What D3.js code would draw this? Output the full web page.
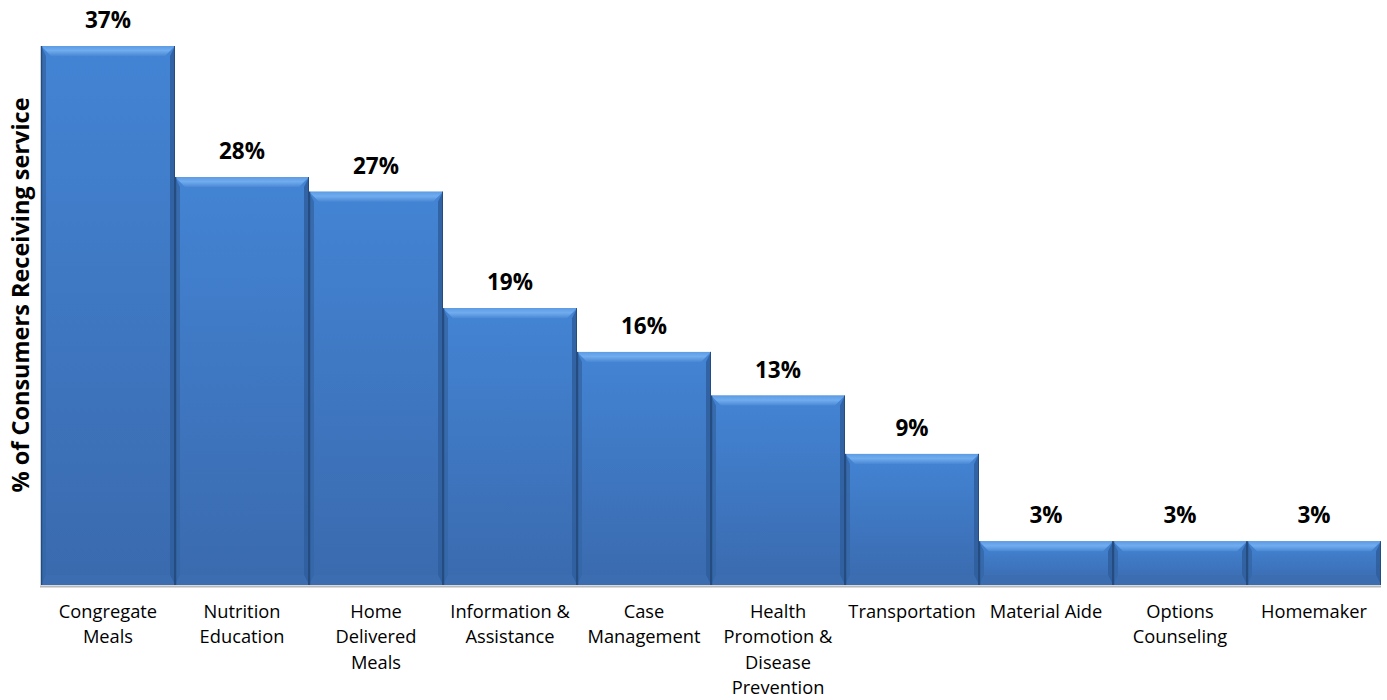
<!DOCTYPE html>
<html>
<head>
<meta charset="utf-8">
<script src="https://cdn.jsdelivr.net/npm/d3@7"></script>
<style>
  html, body { margin: 0; padding: 0; background: #fff; }
  svg text { font-family: "Open Sans", Lato, sans-serif; fill: #000; }
</style>
</head>
<body>
<svg id="chart" width="1387" height="700"></svg>
<script>
// Share of consumers receiving each service
const categories = [
  ["Congregate", "Meals"],
  ["Nutrition", "Education"],
  ["Home", "Delivered", "Meals"],
  ["Information &", "Assistance"],
  ["Case", "Management"],
  ["Health", "Promotion &", "Disease", "Prevention"],
  ["Transportation"],
  ["Material Aide"],
  ["Options", "Counseling"],
  ["Homemaker"]
];
const values = [37, 28, 27, 19, 16, 13, 9, 3, 3, 3];
const yTitle = "% of Consumers Receiving service";

const svg = d3.select("#chart");
const margin = { left: 41, right: 6, top: 46, bottom: 115 };
const W = 1387, H = 700;
const baseY = H - margin.bottom;

const x = d3.scaleBand()
  .domain(d3.range(values.length))
  .range([margin.left, W - margin.right])
  .padding(0);
const y = d3.scaleLinear()
  .domain([0, d3.max(values)])
  .range([baseY, margin.top]);

const defs = svg.append("defs");
const face = defs.append("linearGradient").attr("id", "face")
  .attr("x1", 0).attr("y1", 0).attr("x2", 0).attr("y2", 1);
face.append("stop").attr("offset", "0%").attr("stop-color", "#4384d4");
face.append("stop").attr("offset", "100%").attr("stop-color", "#3a6aae");
const topG = defs.append("linearGradient").attr("id", "topBevel")
  .attr("x1", 0).attr("y1", 0).attr("x2", 0).attr("y2", 1);
topG.append("stop").attr("offset", "0%").attr("stop-color", "#5d9be4");
topG.append("stop").attr("offset", "45%").attr("stop-color", "#70acee");
topG.append("stop").attr("offset", "100%").attr("stop-color", "#4a88d4");

// baseline
svg.append("line")
  .attr("x1", margin.left - 1).attr("x2", W - margin.right)
  .attr("y1", baseY + 1.5).attr("y2", baseY + 1.5)
  .attr("stroke", "#b8b8b8").attr("stroke-width", 2);

const bev = 10;
const bars = svg.append("g").selectAll("g").data(values).join("g");

bars.each(function (v, i) {
  const g = d3.select(this);
  const x0 = x(i), x1 = x(i) + x.bandwidth();
  const t = y(v), b = y(0);
  const bv = Math.min(bev, (b - t) / 2);
  g.append("rect")
    .attr("x", x0).attr("y", t)
    .attr("width", x1 - x0).attr("height", b - t)
    .attr("fill", "url(#face)");
  // left bevel
  g.append("path")
    .attr("d", `M${x0},${t}L${x0 + 5},${t + bv}L${x0 + 5},${b - bv}L${x0},${b}Z`)
    .attr("fill", "#3567a8").attr("opacity", 0.85);
  // right bevel
  g.append("path")
    .attr("d", `M${x1},${t}L${x1 - 5},${t + bv}L${x1 - 5},${b - bv}L${x1},${b}Z`)
    .attr("fill", "#2f5e9c").attr("opacity", 0.85);
  // bottom bevel
  g.append("path")
    .attr("d", `M${x0},${b}L${x0 + 5},${b - bv}L${x1 - 5},${b - bv}L${x1},${b}Z`)
    .attr("fill", "#3b6db0");
  // top bevel
  g.append("path")
    .attr("d", `M${x0},${t}L${x1},${t}L${x1 - bv},${t + bv}L${x0 + bv},${t + bv}Z`)
    .attr("fill", "url(#topBevel)");
  // dark edges
  g.append("line")
    .attr("x1", x0 + 0.5).attr("x2", x0 + 0.5).attr("y1", t).attr("y2", b)
    .attr("stroke", "#244c80").attr("stroke-width", 1.5);
  g.append("line")
    .attr("x1", x1 - 0.5).attr("x2", x1 - 0.5).attr("y1", t).attr("y2", b)
    .attr("stroke", "#244c80").attr("stroke-width", 1);
});

// value labels
svg.append("g").selectAll("text").data(values).join("text")
  .attr("x", (d, i) => x(i) + x.bandwidth() / 2)
  .attr("y", d => y(d) - 18)
  .attr("text-anchor", "middle")
  .attr("font-size", 22.5)
  .attr("font-weight", "bold")
  .text(d => d + "%");

// category labels
const cat = svg.append("g").selectAll("text").data(categories).join("text")
  .attr("x", (d, i) => x(i) + x.bandwidth() / 2)
  .attr("y", baseY + 33)
  .attr("text-anchor", "middle")
  .attr("font-size", 18.3);
cat.selectAll("tspan").data(d => d).join("tspan")
  .attr("x", function () { return d3.select(this.parentNode).attr("x"); })
  .attr("dy", (d, j) => j === 0 ? 0 : 25.3)
  .text(d => d);

// axis title
svg.append("text")
  .attr("transform", `translate(29,295) rotate(-90)`)
  .attr("text-anchor", "middle")
  .attr("font-size", 23.5)
  .attr("font-weight", "bold")
  .text(yTitle);
</script>
</body>
</html>
